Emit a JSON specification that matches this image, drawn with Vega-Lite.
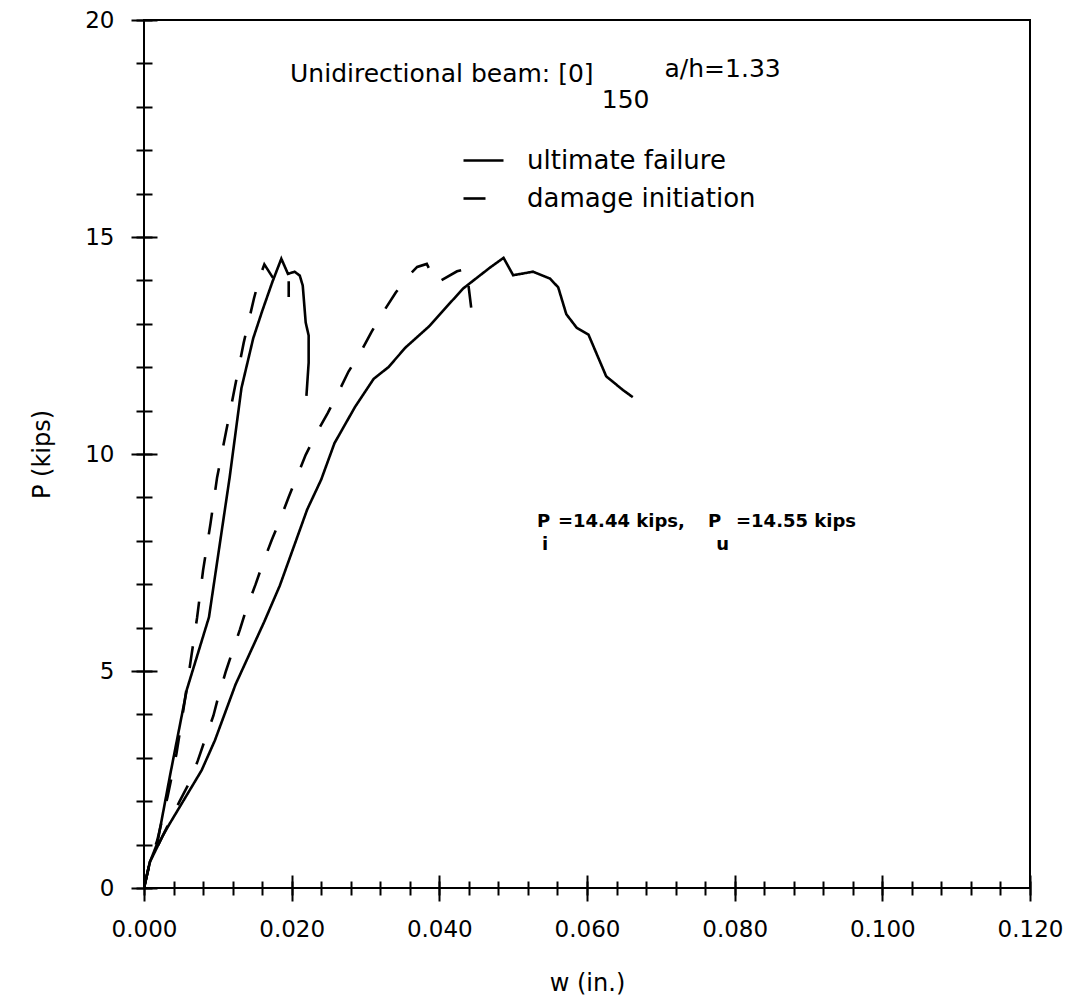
{
  "$schema": "https://vega.github.io/schema/vega-lite/v6.json",
  "width": 886,
  "height": 868,
  "autosize": {"type": "none"},
  "padding": {"left": 144, "top": 20, "right": 47, "bottom": 114},
  "background": "white",
  "config": {
    "view": {"stroke": "black", "strokeWidth": 2},
    "font": "DejaVu Sans",
    "axis": {"labelFont": "DejaVu Sans", "titleFont": "DejaVu Sans", "labelColor": "black", "titleColor": "black", "tickColor": "black", "grid": false, "domain": false, "titleFontWeight": "normal"}
  },
  "datasets": {
    "curves": [
      {"c": "A1", "t": "ultimate failure", "i": 0, "w": 0, "P": 0},
      {"c": "A1", "t": "ultimate failure", "i": 1, "w": 0.0008, "P": 0.6},
      {"c": "A1", "t": "ultimate failure", "i": 2, "w": 0.0018, "P": 1.03},
      {"c": "A1", "t": "ultimate failure", "i": 3, "w": 0.0035, "P": 2.57},
      {"c": "A1", "t": "ultimate failure", "i": 4, "w": 0.0058, "P": 4.57},
      {"c": "A1", "t": "ultimate failure", "i": 5, "w": 0.0088, "P": 6.24},
      {"c": "A1", "t": "ultimate failure", "i": 6, "w": 0.0116, "P": 9.46},
      {"c": "A1", "t": "ultimate failure", "i": 7, "w": 0.0132, "P": 11.52},
      {"c": "A1", "t": "ultimate failure", "i": 8, "w": 0.0148, "P": 12.67},
      {"c": "A1", "t": "ultimate failure", "i": 9, "w": 0.016, "P": 13.29},
      {"c": "A1", "t": "ultimate failure", "i": 10, "w": 0.0174, "P": 13.97},
      {"c": "A1", "t": "ultimate failure", "i": 11, "w": 0.0186, "P": 14.5},
      {"c": "A1", "t": "ultimate failure", "i": 12, "w": 0.0195, "P": 14.15},
      {"c": "A1", "t": "ultimate failure", "i": 13, "w": 0.0204, "P": 14.2},
      {"c": "A1", "t": "ultimate failure", "i": 14, "w": 0.0211, "P": 14.11},
      {"c": "A1", "t": "ultimate failure", "i": 15, "w": 0.0215, "P": 13.88},
      {"c": "A1", "t": "ultimate failure", "i": 16, "w": 0.0219, "P": 13.03},
      {"c": "A1", "t": "ultimate failure", "i": 17, "w": 0.0223, "P": 12.73},
      {"c": "A1", "t": "ultimate failure", "i": 18, "w": 0.0223, "P": 12.1},
      {"c": "A1", "t": "ultimate failure", "i": 19, "w": 0.022, "P": 11.34},

      {"c": "A2", "t": "damage initiation", "i": 0, "w": 0, "P": 0},
      {"c": "A2", "t": "damage initiation", "i": 1, "w": 0.0008, "P": 0.6},
      {"c": "A2", "t": "damage initiation", "i": 2, "w": 0.0018, "P": 1.1},
      {"c": "A2", "t": "damage initiation", "i": 3, "w": 0.0032, "P": 2.11},
      {"c": "A2", "t": "damage initiation", "i": 4, "w": 0.0044, "P": 3.1},
      {"c": "A2", "t": "damage initiation", "i": 5, "w": 0.0054, "P": 4.18},
      {"c": "A2", "t": "damage initiation", "i": 6, "w": 0.0063, "P": 5.21},
      {"c": "A2", "t": "damage initiation", "i": 7, "w": 0.0072, "P": 6.24},
      {"c": "A2", "t": "damage initiation", "i": 8, "w": 0.008, "P": 7.32},
      {"c": "A2", "t": "damage initiation", "i": 9, "w": 0.009, "P": 8.39},
      {"c": "A2", "t": "damage initiation", "i": 10, "w": 0.0099, "P": 9.46},
      {"c": "A2", "t": "damage initiation", "i": 11, "w": 0.0111, "P": 10.5},
      {"c": "A2", "t": "damage initiation", "i": 12, "w": 0.0123, "P": 11.53},
      {"c": "A2", "t": "damage initiation", "i": 13, "w": 0.0135, "P": 12.56},
      {"c": "A2", "t": "damage initiation", "i": 14, "w": 0.0149, "P": 13.59},
      {"c": "A2", "t": "damage initiation", "i": 15, "w": 0.0157, "P": 14.09},
      {"c": "A2", "t": "damage initiation", "i": 16, "w": 0.0163, "P": 14.37},
      {"c": "A2", "t": "damage initiation", "i": 17, "w": 0.0178, "P": 13.97},
      {"c": "A2", "t": "damage initiation", "i": 18, "w": 0.0196, "P": 14.08},
      {"c": "A2", "t": "damage initiation", "i": 19, "w": 0.0196, "P": 13.62},

      {"c": "B1", "t": "ultimate failure", "i": 0, "w": 0, "P": 0},
      {"c": "B1", "t": "ultimate failure", "i": 1, "w": 0.0008, "P": 0.6},
      {"c": "B1", "t": "ultimate failure", "i": 2, "w": 0.0025, "P": 1.19},
      {"c": "B1", "t": "ultimate failure", "i": 3, "w": 0.0034, "P": 1.46},
      {"c": "B1", "t": "ultimate failure", "i": 4, "w": 0.0078, "P": 2.71},
      {"c": "B1", "t": "ultimate failure", "i": 5, "w": 0.0096, "P": 3.4},
      {"c": "B1", "t": "ultimate failure", "i": 6, "w": 0.0124, "P": 4.69},
      {"c": "B1", "t": "ultimate failure", "i": 7, "w": 0.0163, "P": 6.14},
      {"c": "B1", "t": "ultimate failure", "i": 8, "w": 0.0184, "P": 6.97},
      {"c": "B1", "t": "ultimate failure", "i": 9, "w": 0.0221, "P": 8.72},
      {"c": "B1", "t": "ultimate failure", "i": 10, "w": 0.024, "P": 9.41},
      {"c": "B1", "t": "ultimate failure", "i": 11, "w": 0.0258, "P": 10.25},
      {"c": "B1", "t": "ultimate failure", "i": 12, "w": 0.0286, "P": 11.09},
      {"c": "B1", "t": "ultimate failure", "i": 13, "w": 0.0311, "P": 11.73},
      {"c": "B1", "t": "ultimate failure", "i": 14, "w": 0.0331, "P": 12.0},
      {"c": "B1", "t": "ultimate failure", "i": 15, "w": 0.0354, "P": 12.45},
      {"c": "B1", "t": "ultimate failure", "i": 16, "w": 0.0386, "P": 12.94},
      {"c": "B1", "t": "ultimate failure", "i": 17, "w": 0.0432, "P": 13.81},
      {"c": "B1", "t": "ultimate failure", "i": 18, "w": 0.0469, "P": 14.3},
      {"c": "B1", "t": "ultimate failure", "i": 19, "w": 0.0487, "P": 14.52},
      {"c": "B1", "t": "ultimate failure", "i": 20, "w": 0.05, "P": 14.12},
      {"c": "B1", "t": "ultimate failure", "i": 21, "w": 0.0527, "P": 14.2},
      {"c": "B1", "t": "ultimate failure", "i": 22, "w": 0.055, "P": 14.04},
      {"c": "B1", "t": "ultimate failure", "i": 23, "w": 0.0561, "P": 13.84},
      {"c": "B1", "t": "ultimate failure", "i": 24, "w": 0.0572, "P": 13.22},
      {"c": "B1", "t": "ultimate failure", "i": 25, "w": 0.0586, "P": 12.91},
      {"c": "B1", "t": "ultimate failure", "i": 26, "w": 0.0602, "P": 12.75},
      {"c": "B1", "t": "ultimate failure", "i": 27, "w": 0.0626, "P": 11.79},
      {"c": "B1", "t": "ultimate failure", "i": 28, "w": 0.0649, "P": 11.47},
      {"c": "B1", "t": "ultimate failure", "i": 29, "w": 0.0662, "P": 11.31},

      {"c": "B2", "t": "damage initiation", "i": 0, "w": 0, "P": 0},
      {"c": "B2", "t": "damage initiation", "i": 1, "w": 0.0008, "P": 0.6},
      {"c": "B2", "t": "damage initiation", "i": 2, "w": 0.0025, "P": 1.19},
      {"c": "B2", "t": "damage initiation", "i": 3, "w": 0.0048, "P": 1.99},
      {"c": "B2", "t": "damage initiation", "i": 4, "w": 0.0062, "P": 2.45},
      {"c": "B2", "t": "damage initiation", "i": 5, "w": 0.0073, "P": 2.94},
      {"c": "B2", "t": "damage initiation", "i": 6, "w": 0.0083, "P": 3.44},
      {"c": "B2", "t": "damage initiation", "i": 7, "w": 0.0094, "P": 3.97},
      {"c": "B2", "t": "damage initiation", "i": 8, "w": 0.0101, "P": 4.43},
      {"c": "B2", "t": "damage initiation", "i": 9, "w": 0.0111, "P": 5.0},
      {"c": "B2", "t": "damage initiation", "i": 10, "w": 0.012, "P": 5.46},
      {"c": "B2", "t": "damage initiation", "i": 11, "w": 0.013, "P": 5.96},
      {"c": "B2", "t": "damage initiation", "i": 12, "w": 0.0139, "P": 6.45},
      {"c": "B2", "t": "damage initiation", "i": 13, "w": 0.0151, "P": 6.99},
      {"c": "B2", "t": "damage initiation", "i": 14, "w": 0.0161, "P": 7.48},
      {"c": "B2", "t": "damage initiation", "i": 15, "w": 0.0173, "P": 8.02},
      {"c": "B2", "t": "damage initiation", "i": 16, "w": 0.0184, "P": 8.47},
      {"c": "B2", "t": "damage initiation", "i": 17, "w": 0.0196, "P": 9.01},
      {"c": "B2", "t": "damage initiation", "i": 18, "w": 0.0206, "P": 9.43},
      {"c": "B2", "t": "damage initiation", "i": 19, "w": 0.0219, "P": 9.98},
      {"c": "B2", "t": "damage initiation", "i": 20, "w": 0.0233, "P": 10.46},
      {"c": "B2", "t": "damage initiation", "i": 21, "w": 0.0249, "P": 10.95},
      {"c": "B2", "t": "damage initiation", "i": 22, "w": 0.0263, "P": 11.41},
      {"c": "B2", "t": "damage initiation", "i": 23, "w": 0.0277, "P": 11.9},
      {"c": "B2", "t": "damage initiation", "i": 24, "w": 0.0293, "P": 12.33},
      {"c": "B2", "t": "damage initiation", "i": 25, "w": 0.0308, "P": 12.81},
      {"c": "B2", "t": "damage initiation", "i": 26, "w": 0.0324, "P": 13.27},
      {"c": "B2", "t": "damage initiation", "i": 27, "w": 0.0341, "P": 13.72},
      {"c": "B2", "t": "damage initiation", "i": 28, "w": 0.036, "P": 14.14},
      {"c": "B2", "t": "damage initiation", "i": 29, "w": 0.037, "P": 14.31},
      {"c": "B2", "t": "damage initiation", "i": 30, "w": 0.0383, "P": 14.38},
      {"c": "B2", "t": "damage initiation", "i": 31, "w": 0.0396, "P": 13.94},
      {"c": "B2", "t": "damage initiation", "i": 32, "w": 0.0424, "P": 14.21},
      {"c": "B2", "t": "damage initiation", "i": 33, "w": 0.0437, "P": 14.27},
      {"c": "B2", "t": "damage initiation", "i": 34, "w": 0.044, "P": 13.81},
      {"c": "B2", "t": "damage initiation", "i": 35, "w": 0.0445, "P": 13.11}
    ],
    "bigText": [
      {"w": 0.01978, "P": 18.57, "label": "Unidirectional beam: [0]"},
      {"w": 0.062, "P": 17.97, "label": "150"},
      {"w": 0.0705, "P": 18.69, "label": "a/h=1.33"}
    ],
    "smallText": [
      {"w": 0.05323, "P": 8.32, "label": "P"},
      {"w": 0.05607, "P": 8.32, "label": "=14.44 kips,"},
      {"w": 0.07639, "P": 8.32, "label": "P"},
      {"w": 0.08018, "P": 8.32, "label": "=14.55 kips"},
      {"w": 0.0539, "P": 7.79, "label": "i"},
      {"w": 0.0775, "P": 7.79, "label": "u"}
    ]
  },
  "layer": [
    {
      "data": {"name": "curves"},
      "mark": {"type": "line", "color": "black", "strokeWidth": 2.6, "clip": true},
      "encoding": {
        "x": {
          "field": "w", "type": "quantitative",
          "scale": {"domain": [0, 0.12], "nice": false, "zero": false},
          "axis": {
            "orient": "bottom",
            "values": [0, 0.02, 0.04, 0.06, 0.08, 0.1, 0.12],
            "format": ".3f", "title": "w (in.)",
            "tickSize": 26, "offset": -13, "tickWidth": 2,
            "labelPadding": 17, "labelFontSize": 23, "labelFlush": false, "labelOverlap": false,
            "titleFontSize": 24, "titlePadding": 30
          }
        },
        "y": {
          "field": "P", "type": "quantitative",
          "scale": {"domain": [0, 20], "nice": false},
          "axis": {
            "orient": "left",
            "values": [0, 5, 10, 15, 20],
            "title": "P (kips)",
            "tickSize": 26, "offset": -13, "tickWidth": 2,
            "labelPadding": 17, "labelFontSize": 23, "labelFlush": false, "labelOverlap": false,
            "titleFontSize": 24, "titlePadding": 30
          }
        },
        "detail": {"field": "c", "type": "nominal"},
        "order": {"field": "i", "type": "quantitative"},
        "strokeDash": {
          "field": "t", "type": "nominal",
          "scale": {"domain": ["ultimate failure", "damage initiation"], "range": [[1, 0], [22, 23]]},
          "legend": {
            "orient": "none", "legendX": 318, "legendY": 119,
            "title": null, "padding": 0,
            "symbolType": "stroke", "symbolSize": 1600, "symbolStrokeWidth": 2.6, "symbolStrokeColor": "black",
            "labelFont": "DejaVu Sans", "labelFontSize": 26, "labelColor": "black", "labelOffset": 22,
            "rowPadding": 3, "labelLimit": 400
          }
        }
      }
    },
    {
      "data": {"name": "bigText"},
      "mark": {"type": "text", "align": "left", "baseline": "alphabetic", "fontSize": 25, "font": "DejaVu Sans", "color": "black"},
      "encoding": {
        "x": {
          "field": "w", "type": "quantitative",
          "scale": {"domain": [0, 0.12], "nice": false, "zero": false},
          "axis": {
            "orient": "bottom",
            "values": [0, 0.004, 0.008, 0.012, 0.016, 0.02, 0.024, 0.028, 0.032, 0.036, 0.04, 0.044, 0.048, 0.052, 0.056, 0.06, 0.064, 0.068, 0.072, 0.076, 0.08, 0.084, 0.088, 0.092, 0.096, 0.1, 0.104, 0.108, 0.112, 0.116, 0.12],
            "labels": false, "title": null,
            "tickSize": 14, "offset": -7, "tickWidth": 2
          }
        },
        "y": {
          "field": "P", "type": "quantitative",
          "scale": {"domain": [0, 20], "nice": false},
          "axis": {
            "orient": "left",
            "values": [0, 1, 2, 3, 4, 5, 6, 7, 8, 9, 10, 11, 12, 13, 14, 15, 16, 17, 18, 19, 20],
            "labels": false, "title": null,
            "tickSize": 16, "offset": -8, "tickWidth": 2
          }
        },
        "text": {"field": "label", "type": "nominal"}
      }
    },
    {
      "data": {"name": "smallText"},
      "mark": {"type": "text", "align": "left", "baseline": "alphabetic", "fontSize": 18, "fontWeight": "bold", "font": "DejaVu Sans", "color": "black"},
      "encoding": {
        "x": {"field": "w", "type": "quantitative", "scale": {"domain": [0, 0.12], "nice": false, "zero": false}, "axis": null},
        "y": {"field": "P", "type": "quantitative", "scale": {"domain": [0, 20], "nice": false}, "axis": null},
        "text": {"field": "label", "type": "nominal"}
      }
    }
  ],
  "resolve": {"axis": {"x": "independent", "y": "independent"}}
}
